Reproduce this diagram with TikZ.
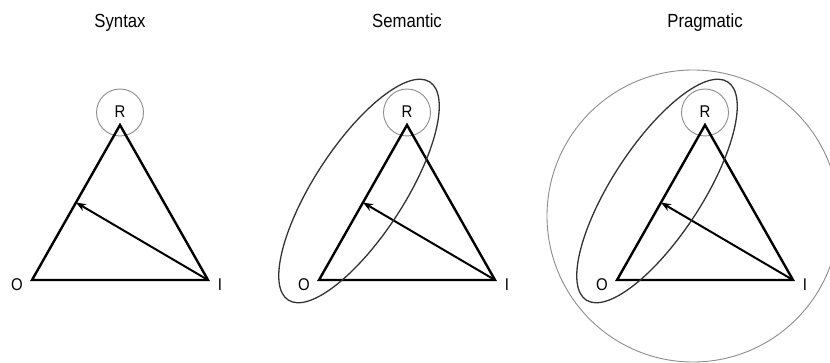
\documentclass[tikz,border=0pt]{standalone}
\usepackage{fontspec}
\setmainfont[FakeStretch=0.88]{Liberation Sans}
\usetikzlibrary{arrows.meta,calc}
\begin{document}
\begin{tikzpicture}[x=1pt,y=-1pt,
  tri/.style={line width=2.4pt, line join=miter},
  ptr/.style={line width=2pt, -{Stealth[length=10pt,width=7.5pt]}},
  ring/.style={draw=black!45, line width=0.9pt},
  oval/.style={draw=black!80, line width=1.3pt},
  ttl/.style={font=\fontsize{19}{22}\selectfont, anchor=base, inner sep=0pt},
  lbl/.style={font=\fontsize{17}{20}\selectfont, anchor=base, inner sep=0pt}]
\useasboundingbox (0,0) rectangle (830,363);
\foreach \n/\dx/\t in {1/0/Syntax,2/287/Semantic,3/585/Pragmatic}{
  \begin{scope}[xshift=\dx pt]
    \coordinate (O\n) at (32,280);
    \coordinate (I\n) at (208,280);
    \coordinate (R\n) at (120,125);
    \coordinate (M\n) at ($(O\n)!0.5!(R\n)$);
    \coordinate (C\n) at (120,112.5);
    \node[ttl] (T\n) at (120,28) {\t};
    \draw[ring] (C\n) circle[radius=23.5pt];
    \node[lbl] (LR\n) at (120,117.5) {R};
    \node[lbl] (LO\n) at (17,290.5) {O};
    \node[lbl] (LI\n) at (220,290.5) {I};
    \draw[tri] (O\n) -- (R\n) -- (I\n) -- cycle;
    \draw[ptr] (I\n) -- (M\n);
  \end{scope}
}
\coordinate (E2) at (359,191);
\coordinate (E3) at (657,191);
\coordinate (B3) at (693,216);
\draw[oval, rotate around={57:(E2)}] (E2) ellipse[x radius=130pt, y radius=45pt];
\draw[oval, rotate around={57:(E3)}] (E3) ellipse[x radius=130pt, y radius=45pt];
\draw[ring] (B3) circle[radius=146pt];
\end{tikzpicture}
\end{document}
